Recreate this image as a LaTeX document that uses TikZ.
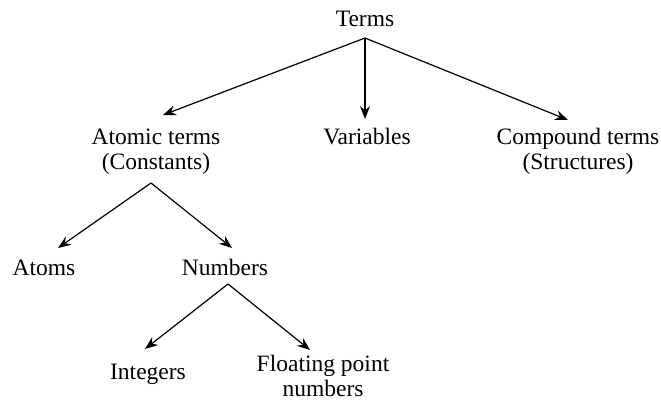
\documentclass[tikz,border=0pt]{standalone}
\usepackage{fontspec}
\setmainfont{Liberation Serif}
\usetikzlibrary{arrows.meta}
\begin{document}
\begin{tikzpicture}[x=1pt,y=-1pt,
  lbl/.style={anchor=base,align=center,inner sep=0pt,font=\fontsize{23.5}{25}\selectfont},
  conn/.style={line width=1.2pt,-{Stealth[length=13pt,width=10pt,inset=4.5pt]}}]
\useasboundingbox (0,0) rectangle (661,401);
% nodes (base anchor = baseline of the last line)
\node[lbl] (terms) at (365,27) {Terms};
\node[lbl] (atomic) at (156,169) {Atomic terms\\(Constants)};
\node[lbl] (vars) at (367,144) {Variables};
\node[lbl] (comp) at (578,169) {Compound terms\\(Structures)};
\node[lbl] (atoms) at (44,275) {Atoms};
\node[lbl] (nums) at (225,275) {Numbers};
\node[lbl] (ints) at (148,379) {Integers};
\node[lbl] (float) at (323,396.5) {Floating point\\numbers};
% connector points
\coordinate (tA) at (365,38);
\coordinate (atomicIn) at (163,115);
\coordinate (varsIn) at (365,119);
\coordinate (compIn) at (568,120);
\coordinate (aA) at (151,183);
\coordinate (atomsIn) at (58,248);
\coordinate (numsIn) at (232,248);
\coordinate (nA) at (228,284);
\coordinate (intsIn) at (145,349);
\coordinate (floatIn) at (310,350);
\draw[conn] (tA) -- (atomicIn);
\draw[conn] (tA) -- (varsIn);
\draw[conn] (tA) -- (compIn);
\draw[conn] (aA) -- (atomsIn);
\draw[conn] (aA) -- (numsIn);
\draw[conn] (nA) -- (intsIn);
\draw[conn] (nA) -- (floatIn);
\end{tikzpicture}
\end{document}
